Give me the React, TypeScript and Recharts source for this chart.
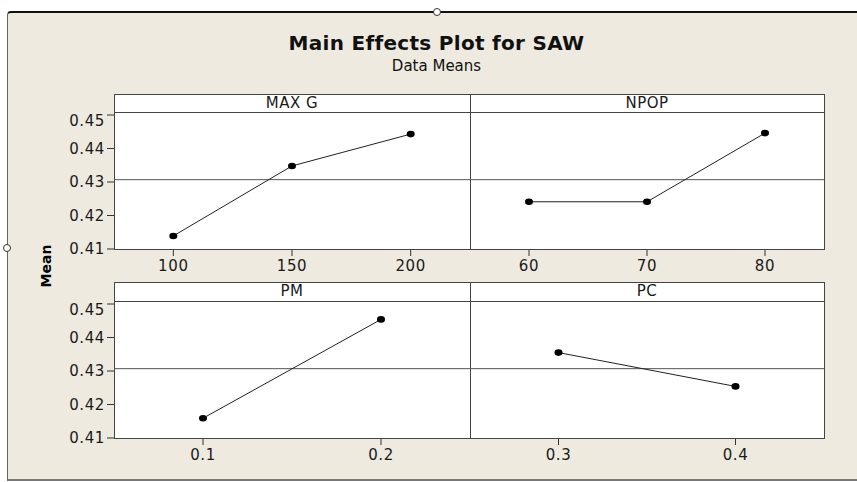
import React from "react";
import { LineChart, Line, XAxis, YAxis, ReferenceLine } from "recharts";

// factor levels and the mean response at each level
const maxGLevels = [100, 150, 200];
const maxGMeans = [0.4139, 0.4348, 0.4443];
const npopLevels = [60, 70, 80];
const npopMeans = [0.4241, 0.4241, 0.4446];
const pmLevels = [0.1, 0.2];
const pmMeans = [0.4159, 0.4454];
const pcLevels = [0.3, 0.4];
const pcMeans = [0.4355, 0.4254];
const overallMean = 0.4307;
const meanTicks = [0.41, 0.42, 0.43, 0.44, 0.45];

const FONT = "'DejaVu Sans', Verdana, sans-serif";
const Y_DOMAIN: [number, number] = [0.4097, 0.4509];

const toRows = (levels: number[], means: number[]) =>
  levels.map((level, i) => ({ level, mean: means[i] }));

const Dot = (p: any) => (
  <ellipse key={`d${p.index}`} cx={p.cx} cy={p.cy} rx={4} ry={3.3} fill="#000" />
);

interface PanelProps {
  levels: number[];
  means: number[];
  domain: [number, number];
  left: number; // data-region left
  top: number; // data-region top
  width: number;
  showY: boolean;
}

const DATA_H = 138;
const tickStyle = { fill: "#1a1a1a", fontSize: 15, fontFamily: FONT, letterSpacing: 0.6 };

const Panel = ({ levels, means, domain, left, top, width, showY }: PanelProps) => (
  <div style={{ position: "absolute", left: left - 80, top, zIndex: 2 }}>
    <LineChart
      width={width + 90}
      height={DATA_H + 30}
      data={toRows(levels, means)}
      margin={{ top: 0, right: 10, bottom: 0, left: showY ? 0 : 80 }}
    >
      <XAxis
        dataKey="level"
        type="number"
        domain={domain}
        ticks={levels}
        height={30}
        axisLine={false}
        tickSize={6}
        tickMargin={4}
        tickLine={{ stroke: "#333" }}
        tick={tickStyle}
        allowDataOverflow
      />
      <YAxis
        type="number"
        domain={Y_DOMAIN}
        ticks={meanTicks}
        width={80}
        hide={!showY}
        axisLine={false}
        tickSize={7}
        tickMargin={2}
        tickLine={{ stroke: "#333" }}
        tick={tickStyle}
        tickFormatter={(v: number) => v.toFixed(2)}
        allowDataOverflow
      />
      <ReferenceLine y={overallMean} stroke="#555" strokeWidth={1} />
      <Line
        dataKey="mean"
        stroke="#222"
        strokeWidth={1}
        dot={Dot}
        activeDot={false}
        isAnimationActive={false}
      />
    </LineChart>
  </div>
);

const RowFrame = ({ top, dataTop, labels }: { top: number; dataTop: number; labels: string[] }) => (
  <>
    <div
      style={{
        position: "absolute", left: 114, top, width: 711, height: dataTop + DATA_H - top,
        background: "#fff", border: "1px solid #444", boxSizing: "border-box", zIndex: 1,
      }}
    />
    <div style={{ position: "absolute", left: 114, top: dataTop, width: 711, height: 1, background: "#444", zIndex: 1 }} />
    <div style={{ position: "absolute", left: 470, top, width: 1, height: dataTop + DATA_H - top, background: "#444", zIndex: 1 }} />
    {labels.map((t, i) => (
      <div
        key={t}
        style={{
          position: "absolute", left: i === 0 ? 114 : 470, width: i === 0 ? 356 : 354, top,
          height: dataTop - top, lineHeight: `${dataTop - top}px`, textAlign: "center",
          fontFamily: FONT, fontSize: 15, letterSpacing: 0.5, color: "#1a1a1a", zIndex: 3,
        }}
      >
        {t}
      </div>
    ))}
  </>
);

export default function App() {
  return (
    <div style={{ position: "absolute", left: 0, top: 0, width: 857, height: 482, background: "#fff", overflow: "hidden" }}>
      <div
        style={{
          position: "absolute", left: 7, top: 11, width: 852, height: 470,
          background: "#eeeae0", borderTop: "2px solid #111", borderLeft: "1px solid #666",
          borderBottom: "2px solid #777", borderTopLeftRadius: 4, boxSizing: "border-box",
        }}
      />
      <div style={{ position: "absolute", left: 433, top: 8, width: 6, height: 6, borderRadius: 4, border: "1px solid #333", background: "#fff" }} />
      <div style={{ position: "absolute", left: 3, top: 244, width: 6, height: 6, borderRadius: 4, border: "1px solid #333", background: "#fff" }} />
      <div
        style={{
          position: "absolute", left: 0, width: 873, top: 31, textAlign: "center",
          fontFamily: FONT, fontWeight: "bold", fontSize: 20, color: "#111", letterSpacing: 0.3,
        }}
      >
        Main Effects Plot for SAW
      </div>
      <div
        style={{
          position: "absolute", left: 0, width: 873, top: 57, textAlign: "center",
          fontFamily: FONT, fontSize: 15, color: "#111",
        }}
      >
        Data Means
      </div>
      <div
        style={{
          position: "absolute", left: 46, top: 266, transform: "translate(-50%, -50%) rotate(-90deg)",
          fontFamily: FONT, fontWeight: "bold", fontSize: 14, color: "#000",
        }}
      >
        Mean
      </div>

      <RowFrame top={94} dataTop={112} labels={["MAX G", "NPOP"]} />
      <RowFrame top={282} dataTop={301} labels={["PM", "PC"]} />

      <Panel levels={maxGLevels} means={maxGMeans} domain={[75, 225]} left={114} top={112} width={356} showY />
      <Panel levels={npopLevels} means={npopMeans} domain={[55, 85]} left={470} top={112} width={354} showY={false} />
      <Panel levels={pmLevels} means={pmMeans} domain={[0.05, 0.25]} left={114} top={301} width={356} showY />
      <Panel levels={pcLevels} means={pcMeans} domain={[0.25, 0.45]} left={470} top={301} width={354} showY={false} />
    </div>
  );
}
